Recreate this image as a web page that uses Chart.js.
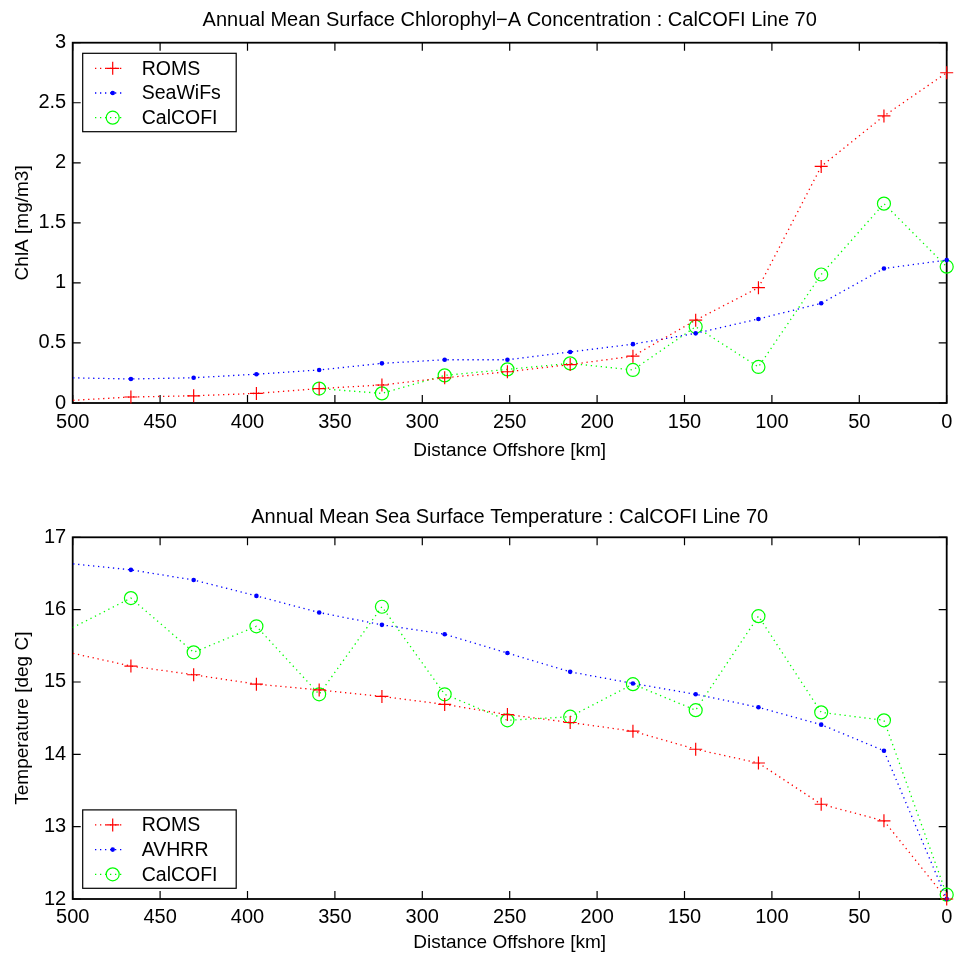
<!DOCTYPE html>
<html lang="en">
<head>
<meta charset="UTF-8">
<title>CalCOFI Line 70</title>
<style>
  html, body { margin: 0; padding: 0; background: #fff; }
  canvas { display: block; }
</style>
</head>
<body>
<canvas id="chlChart" width="955" height="480"></canvas>
<canvas id="sstChart" width="955" height="480"></canvas>
<script src="https://cdn.jsdelivr.net/npm/chart.js@4.4.1/dist/chart.umd.min.js"></script>
<script>
// station distances offshore (km); the first one sits just past the 500 km edge
const distanceKm = [502.6, 466.7, 430.8, 394.9, 359.0, 323.1, 287.2, 251.3, 215.4, 179.5, 143.6, 107.7, 71.8, 35.9, 0];

// surface chlorophyll-a (mg/m3)
const chlRoms    = [0.02, 0.05, 0.06, 0.08, 0.12, 0.15, 0.21, 0.26, 0.32, 0.39, 0.69, 0.96, 1.97, 2.39, 2.75];
const chlSeawifs = [0.21, 0.20, 0.21, 0.24, 0.275, 0.33, 0.36, 0.36, 0.425, 0.49, 0.58, 0.70, 0.83, 1.12, 1.19];
const chlCalcofi = [null, null, null, null, 0.12, 0.08, 0.23, 0.28, 0.33, 0.275, 0.635, 0.30, 1.07, 1.66, 1.135];

// sea surface temperature (deg C)
const sstRoms    = [15.41, 15.22, 15.10, 14.97, 14.89, 14.80, 14.69, 14.55, 14.44, 14.32, 14.07, 13.88, 13.31, 13.08, 12.0];
const sstAvhrr   = [16.64, 16.55, 16.41, 16.19, 15.96, 15.79, 15.66, 15.40, 15.14, 14.98, 14.83, 14.65, 14.41, 14.05, 12.0];
const sstCalcofi = [15.72, 16.16, 15.41, 15.77, 14.83, 16.04, 14.83, 14.47, 14.52, 14.97, 14.61, 15.91, 14.58, 14.47, 12.06];

const FONT = '"Liberation Sans", Arial, sans-serif';
Chart.defaults.font.family = FONT;
Chart.defaults.color = '#000';

// matlab-ish line specs: r+:  b.:  go:
const styles = {
  plus: { color: '#ff0000', pointStyle: 'cross',  r: 6.5, fill: 'rgba(0,0,0,0)', bw: 1.2 },
  dot:  { color: '#0000ff', pointStyle: 'circle', r: 2.3, fill: '#0000ff',       bw: 0 },
  ring: { color: '#00ff00', pointStyle: 'circle', r: 6.5, fill: 'rgba(0,0,0,0)', bw: 1.2 }
};

function series(label, values, st) {
  return {
    label,
    data: distanceKm.map((x, i) => ({ x, y: values[i] })),
    borderColor: st.color,
    borderWidth: 1.3,
    borderDash: [1.3, 3.7],
    pointStyle: st.pointStyle,
    pointRadius: distanceKm.map(d => d > 500 ? 0 : st.r),
    pointBackgroundColor: st.fill,
    pointBorderColor: st.color,
    pointBorderWidth: st.bw,
    legendStyle: st,
    tension: 0,
    clip: { left: 0, top: false, right: false, bottom: false }
  };
}

// box frame + inward ticks on all four sides
const frameTicks = {
  id: 'frameTicks',
  beforeDatasetsDraw(chart) {
    const { ctx, chartArea: a, scales } = chart;
    ctx.save();
    ctx.strokeStyle = '#000';
    ctx.lineWidth = 1.2;
    ctx.beginPath();
    scales.x.ticks.forEach(t => {
      const px = scales.x.getPixelForValue(t.value);
      ctx.moveTo(px, a.bottom); ctx.lineTo(px, a.bottom - 8);
      ctx.moveTo(px, a.top);    ctx.lineTo(px, a.top + 8);
    });
    scales.y.ticks.forEach(t => {
      const py = scales.y.getPixelForValue(t.value);
      ctx.moveTo(a.left, py);  ctx.lineTo(a.left + 8, py);
      ctx.moveTo(a.right, py); ctx.lineTo(a.right - 8, py);
    });
    ctx.stroke();
    ctx.lineWidth = 1.8;
    ctx.strokeRect(a.left, a.top, a.right - a.left, a.bottom - a.top);
    ctx.restore();
  }
};

// legend in a bordered box inside the axes
const boxLegend = {
  id: 'boxLegend',
  afterDraw(chart, args, opts) {
    const { ctx, chartArea: a } = chart;
    const w = 153.5, h = 78.4;
    const bx = a.left + 10;
    const by = opts.corner === 'bottom' ? a.bottom - 10.7 - h : a.top + 10.6;
    ctx.save();
    ctx.fillStyle = '#fff';
    ctx.fillRect(bx, by, w, h);
    ctx.strokeStyle = '#000';
    ctx.lineWidth = 1.2;
    ctx.strokeRect(bx, by, w, h);
    chart.data.datasets.forEach((ds, i) => {
      const st = ds.legendStyle;
      const y = by + 15 + i * 24.7;
      ctx.strokeStyle = st.color;
      ctx.lineWidth = ds.borderWidth;
      ctx.setLineDash(ds.borderDash);
      ctx.beginPath();
      ctx.moveTo(bx + 12.3, y); ctx.lineTo(bx + 41, y);
      ctx.stroke();
      ctx.setLineDash([]);
      ctx.fillStyle = st.fill;
      ctx.lineWidth = st.bw;
      Chart.helpers.drawPoint(ctx, { pointStyle: st.pointStyle, radius: st.r, rotation: 0, borderWidth: st.bw }, bx + 30, y);
      ctx.fillStyle = '#000';
      ctx.font = '19.5px ' + FONT;
      ctx.textAlign = 'left';
      ctx.textBaseline = 'middle';
      ctx.fillText(ds.label, bx + 59, y + 1);
    });
    ctx.restore();
  }
};

function makeChart(id, o) {
  return new Chart(document.getElementById(id), {
    type: 'line',
    data: { datasets: o.datasets },
    options: {
      responsive: false,
      animation: false,
      layout: { padding: { left: 0, right: 8.3, top: 0, bottom: 0 } },
      plugins: {
        legend: { display: false },
        tooltip: { enabled: false },
        title: {
          display: true,
          fullSize: false,
          text: o.title,
          font: { size: 20, weight: 'normal', lineHeight: 1.2 },
          padding: o.titlePad
        },
        boxLegend: { corner: o.legendCorner }
      },
      scales: {
        x: {
          type: 'linear',
          min: 0, max: 500, reverse: true,
          grid: { display: false, drawTicks: false },
          border: { display: false },
          ticks: { stepSize: 50, padding: o.xTickPad, font: { size: 20 } },
          title: { display: true, text: 'Distance Offshore [km]', font: { size: 19 }, padding: { top: 0, bottom: o.xTitlePad } },
          afterFit: s => { s.height = o.xHeight; s.paddingLeft = 0; s.paddingRight = 0; }
        },
        y: {
          type: 'linear',
          min: o.yMin, max: o.yMax,
          grid: { display: false, drawTicks: false },
          border: { display: false },
          ticks: { stepSize: o.yStep, padding: 6.5, font: { size: 20 }, callback: v => String(v) },
          title: { display: true, text: o.yTitle, font: { size: 19 }, padding: { top: 11, bottom: 0 } },
          afterFit: s => { s.width = 72.7; s.paddingTop = 0; s.paddingBottom = 0; }
        }
      }
    },
    plugins: [frameTicks, boxLegend]
  });
}

makeChart('chlChart', {
  title: 'Annual Mean Surface Chlorophyl\u2212A Concentration : CalCOFI Line 70',
  titlePad: { top: 8, bottom: 10.7 },
  yTitle: 'ChlA [mg/m3]',
  yMin: 0, yMax: 3, yStep: 0.5,
  xHeight: 77, xTickPad: 7.5, xTitlePad: 18,
  legendCorner: 'top',
  datasets: [
    series('ROMS', chlRoms, styles.plus),
    series('SeaWiFs', chlSeawifs, styles.dot),
    series('CalCOFI', chlCalcofi, styles.ring)
  ]
});

makeChart('sstChart', {
  title: 'Annual Mean Sea Surface Temperature : CalCOFI Line 70',
  titlePad: { top: 25, bottom: 8.3 },
  yTitle: 'Temperature [deg C]',
  yMin: 12, yMax: 17, yStep: 1,
  xHeight: 61, xTickPad: 6, xTitlePad: 5.6,
  legendCorner: 'bottom',
  datasets: [
    series('ROMS', sstRoms, styles.plus),
    series('AVHRR', sstAvhrr, styles.dot),
    series('CalCOFI', sstCalcofi, styles.ring)
  ]
});
</script>
</body>
</html>
